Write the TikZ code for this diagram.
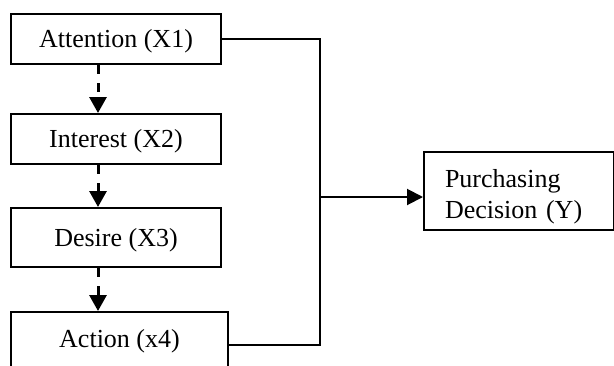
\documentclass[tikz,border=0pt]{standalone}
\usepackage{fontspec}
\setmainfont{Liberation Serif}
\usetikzlibrary{arrows.meta}

\begin{document}
\begin{tikzpicture}[
    x=1pt, y=-1pt,
    every node/.style={font=\fontsize{26}{31}\selectfont},
    factor/.style={rectangle, draw, line width=2pt, minimum width=210pt, minimum height=50pt, inner sep=0pt, text height=17pt, text depth=0pt},
    result/.style={rectangle, draw, line width=2pt, anchor=north west, text width=148pt, align=left, inner xsep=21pt, inner ysep=0pt},
    link/.style={line width=2pt},
    arrow/.style={line width=2pt, -{Triangle[length=16pt,width=16pt]}},
    stage/.style={line width=3pt, dash pattern=on 9pt off 9pt, -{Triangle[length=16pt,width=17pt]}}
]
    \useasboundingbox (0,0) rectangle (614,365);
    \clip (0,0) rectangle (614,365);

    % AIDA factors
    \node [factor] (att) at (116,39) {Attention (X1)};
    \node [factor] (int) at (116,139) {Interest (X2)};
    \node [factor, minimum height=59pt] (des) at (116,237.5) {Desire (X3)};
    \node [factor, minimum width=217pt, minimum height=70pt, text depth=17pt] (act) at (119.5,347) {Action (x4)};

    % Outcome
    \node [result] (pur) at (423,151) {\rule{0pt}{35pt}Purchasing\\Decision (Y)\rule[-12pt]{0pt}{12pt}};
    \coordinate (bus) at (320,197);

    % Stage arrows
    \draw [stage] (att.south -| 98,0) -- (int.north -| 98,0);
    \draw [stage] (int.south -| 98,0) -- (des.north -| 98,0);
    \draw [stage] (des.south -| 98,0) -- (act.north -| 98,0);

    % Joint effect
    \draw [link] (att.east) -| (bus) |- ([yshift=2pt]act.east);
    \draw [arrow] (bus) -- (bus -| pur.west);
\end{tikzpicture}
\end{document}
